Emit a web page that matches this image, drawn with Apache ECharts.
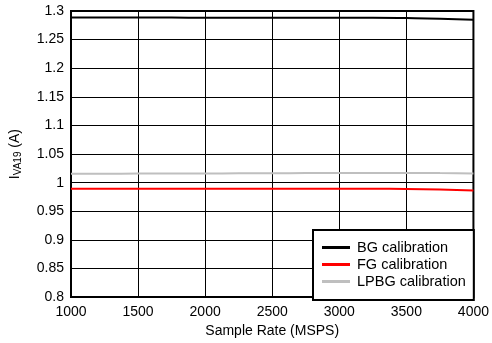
<!DOCTYPE html>
<html><head><meta charset="utf-8">
<script src="https://cdn.jsdelivr.net/npm/echarts@6/dist/echarts.min.js"></script>
<style>html,body{margin:0;padding:0;background:#fff}#c{width:492px;height:343px}</style>
</head><body><div id="c"></div>
<script>
const sampleRate = [1000,1250,1500,1750,2000,2250,2500,2750,3000,3250,3500,3750,4000];
const bgCal   = [1.2888,1.2888,1.2888,1.2885,1.2882,1.2882,1.2882,1.2883,1.2884,1.2883,1.2877,1.2866,1.2846];
const fgCal   = [0.9893,0.9893,0.9892,0.9893,0.9893,0.9892,0.9893,0.9893,0.9894,0.9893,0.9889,0.9880,0.9865];
const lpbgCal = [1.0155,1.0156,1.0158,1.0160,1.0161,1.0163,1.0165,1.0168,1.0170,1.0171,1.0170,1.0167,1.0162];
const seriesNames = ['BG calibration','FG calibration','LPBG calibration'];
const seriesColors = ['#000000','#ff0000','#bfbfbf'];

const font = '"Liberation Sans", Arial, sans-serif';
const chart = echarts.init(document.getElementById('c'), null, {renderer:'canvas'});
const mk = (i, data) => ({
  name: seriesNames[i], type:'line', symbol:'none', smooth:true,
  data: sampleRate.map((x,k)=>[x,data[k]]),
  lineStyle:{color:seriesColors[i], width:2}, itemStyle:{color:seriesColors[i]},
  z: 3 - i
});
chart.setOption({
  animation:false,
  grid:{left:69, right:16, top:11, bottom:45, show:true, borderColor:'#000', borderWidth:2, backgroundColor:'transparent'},
  xAxis:{type:'value', min:1000, max:4000, interval:500,
    name:'Sample Rate (MSPS)', nameLocation:'middle', nameGap:23,
    nameTextStyle:{fontFamily:font, fontSize:14, color:'#000'},
    axisLine:{show:false}, axisTick:{show:false},
    axisLabel:{fontFamily:font, fontSize:14, color:'#000', margin:8, formatter:v=>String(v)},
    splitLine:{show:true, lineStyle:{color:'#000', width:1}}},
  yAxis:{type:'value', min:0.8, max:1.3, interval:0.05,
    name:'{m|I}{s|VA19}{m| (A)}', nameLocation:'middle', nameGap:48,
    nameTextStyle:{fontFamily:font, fontSize:14, color:'#000',
      rich:{m:{fontFamily:font,fontSize:14,color:'#000'}, s:{fontFamily:font,fontSize:10,color:'#000',verticalAlign:'bottom',padding:[6,0,0,0]}}},
    axisLine:{show:false}, axisTick:{show:false},
    axisLabel:{fontFamily:font, fontSize:14, color:'#000', margin:7,
      formatter:v=>String(parseFloat(v.toFixed(2)))},
    splitLine:{show:true, lineStyle:{color:'#000', width:1}}},
  legend:{orient:'vertical', left:313, top:230, width:163,
    padding:[9,8,10,9], itemGap:0, itemWidth:28, itemHeight:3,
    icon:'path://M0,0H28V3H0Z',
    borderColor:'#000', borderWidth:2, backgroundColor:'#fff',
    textStyle:{fontFamily:font, fontSize:14.5, lineHeight:17, color:'#000', padding:[0,0,0,2]},
    data:seriesNames},
  series:[mk(0,bgCal), mk(1,fgCal), mk(2,lpbgCal)]
});
</script></body></html>
